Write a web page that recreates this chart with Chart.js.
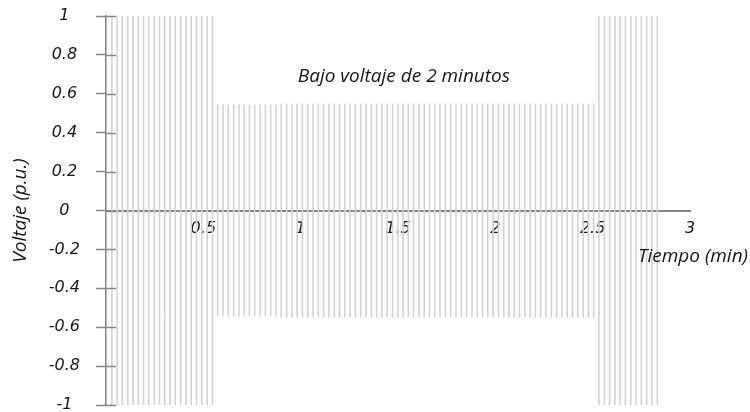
<!DOCTYPE html>
<html>
<head>
<meta charset="utf-8">
<script src="https://cdn.jsdelivr.net/npm/chart.js@4/dist/chart.umd.min.js"></script>
<style>
  html, body { margin: 0; padding: 0; background: #ffffff; }
  #wrap { width: 750px; height: 412px; }
</style>
</head>
<body>
<div id="wrap"><canvas id="grafico" width="750" height="412"></canvas></div>
<script>
// Oscilación de la tensión: cada franja vertical va del pico positivo al negativo
// Tramo 1: tensión nominal
const tiempoTramo1 = [0.030, 0.057, 0.084, 0.112, 0.139, 0.166, 0.193, 0.220, 0.248, 0.275,
                      0.302, 0.329, 0.356, 0.384, 0.411, 0.438, 0.465, 0.492, 0.520, 0.547];
const picoTramo1 = [1, 1, 1, 1, 1, 1, 1, 1, 1, 1,
                    1, 1, 1, 1, 1, 1, 1, 1, 1, 1];

// Tramo 2: bajo voltaje durante 2 minutos
const tiempoTramo2 = [0.574, 0.601, 0.628, 0.656, 0.683, 0.710, 0.737, 0.764, 0.792, 0.819,
                      0.846, 0.873, 0.900, 0.928, 0.955, 0.982, 1.009, 1.036, 1.064, 1.091,
                      1.118, 1.145, 1.172, 1.200, 1.227, 1.254, 1.281, 1.308, 1.336, 1.363,
                      1.390, 1.417, 1.444, 1.472, 1.499, 1.526, 1.553, 1.580, 1.608, 1.635,
                      1.662, 1.689, 1.716, 1.744, 1.771, 1.798, 1.825, 1.852, 1.880, 1.907,
                      1.934, 1.961, 1.988, 2.016, 2.043, 2.070, 2.097, 2.124, 2.152, 2.179,
                      2.206, 2.233, 2.260, 2.288, 2.315, 2.342, 2.369, 2.396, 2.424, 2.451,
                      2.478, 2.505];
const picoTramo2 = [0.545, 0.545, 0.545, 0.545, 0.545, 0.545, 0.545, 0.545, 0.545, 0.545,
                    0.545, 0.545, 0.55, 0.55, 0.55, 0.55, 0.55, 0.55, 0.55, 0.55,
                    0.55, 0.55, 0.55, 0.55, 0.55, 0.55, 0.55, 0.55, 0.55, 0.55,
                    0.55, 0.55, 0.55, 0.55, 0.55, 0.55, 0.55, 0.55, 0.55, 0.55,
                    0.55, 0.55, 0.55, 0.55, 0.55, 0.55, 0.55, 0.55, 0.55, 0.55,
                    0.55, 0.55, 0.55, 0.55, 0.55, 0.55, 0.55, 0.55, 0.55, 0.55,
                    0.55, 0.55, 0.55, 0.55, 0.55, 0.55, 0.55, 0.55, 0.55, 0.55,
                    0.55, 0.55];

// Tramo 3: recuperación de la tensión nominal
const tiempoTramo3 = [2.532, 2.560, 2.587, 2.614, 2.641, 2.668, 2.696, 2.723, 2.750, 2.777,
                      2.804, 2.832];
const picoTramo3 = [1, 1, 1, 1, 1, 1, 1, 1, 1, 1, 1, 1];

// Marcas de los ejes
const marcasTiempo = [0.5, 1, 1.5, 2, 2.5, 3];
const marcasVoltaje = [-1, -0.8, -0.6, -0.4, -0.2, 0, 0.2, 0.4, 0.6, 0.8, 1];

const tituloY = 'Voltaje (p.u.)';
const tituloX = 'Tiempo (min)';
const nota = 'Bajo voltaje de 2 minutos';

const tiempos = tiempoTramo1.concat(tiempoTramo2, tiempoTramo3);
const picos = picoTramo1.concat(picoTramo2, picoTramo3);

// Cada franja: de +pico a -pico en el mismo instante, separada de la siguiente
const puntos = [];
tiempos.forEach((t, i) => {
  puntos.push({ x: t, y: picos[i] });
  puntos.push({ x: t, y: -picos[i] });
  puntos.push({ x: t, y: null });
});

const colorTexto = '#161616';
const colorEje = '#858585';
const fuenteMarcas = { family: '"DejaVu Sans", Verdana, sans-serif', size: 16, style: 'italic' };
const fuenteTitulos = 'italic 19px "Open Sans", Lato, sans-serif';

// Marcas del eje Y que cruzan la línea del eje, y textos libres
const extras = {
  id: 'extras',
  afterDraw(chart) {
    const { ctx, scales } = chart;
    const y = scales.y;
    const x0 = y.right;
    ctx.save();
    ctx.strokeStyle = colorEje;
    ctx.lineWidth = 1.5;
    y.ticks.forEach((tk, i) => {
      const py = Math.round(y.getPixelForTick(i)) + 0.5;
      ctx.beginPath();
      ctx.moveTo(x0, py);
      ctx.lineTo(x0 + 10, py);
      ctx.stroke();
    });
    ctx.fillStyle = colorTexto;
    ctx.font = fuenteTitulos;
    ctx.textBaseline = 'alphabetic';
    ctx.textAlign = 'center';
    ctx.fillText(nota, scales.x.getPixelForValue(1.53), y.getPixelForValue(0.66));
    ctx.textAlign = 'right';
    ctx.fillText(tituloX, chart.width - 2, y.getPixelForValue(-0.265));
    ctx.restore();
  }
};

new Chart(document.getElementById('grafico'), {
  type: 'line',
  data: {
    datasets: [{
      data: puntos,
      borderColor: '#d3d3d3',
      borderWidth: 1.6,
      pointRadius: 0,
      tension: 0,
      spanGaps: false,
      fill: false
    }]
  },
  options: {
    responsive: false,
    animation: false,
    events: [],
    layout: { padding: { top: 16, bottom: 7, right: 60, left: 0 } },
    plugins: { legend: { display: false }, tooltip: { enabled: false } },
    scales: {
      x: {
        type: 'linear',
        position: { y: 0 },
        min: 0,
        max: 3,
        z: 1,
        grid: { display: false },
        border: { display: true, color: colorEje, width: 2 },
        afterBuildTicks(scale) {
          scale.ticks = marcasTiempo.map(v => ({ value: v }));
        },
        afterFit(scale) {
          scale.paddingLeft = 0;
          scale.paddingRight = 0;
        },
        ticks: {
          color: colorTexto,
          font: fuenteMarcas,
          padding: 1,
          maxRotation: 0,
          autoSkip: false,
          callback: v => String(v)
        }
      },
      y: {
        type: 'linear',
        min: -1,
        max: 1,
        afterFit(scale) {
          scale.width = 106;
          scale.paddingTop = 0;
          scale.paddingBottom = 0;
        },
        afterBuildTicks(scale) {
          scale.ticks = marcasVoltaje.map(v => ({ value: v }));
        },
        grid: {
          display: true,
          drawOnChartArea: false,
          drawTicks: true,
          tickLength: 10,
          tickWidth: 1.5,
          color: colorEje
        },
        border: { display: true, color: colorEje, width: 1.5 },
        ticks: {
          color: colorTexto,
          font: fuenteMarcas,
          padding: 16,
          crossAlign: 'center',
          autoSkip: false,
          callback: v => String(v)
        },
        title: {
          display: true,
          text: tituloY,
          color: colorTexto,
          font: { family: '"Open Sans", Lato, sans-serif', size: 19, style: 'italic' },
          padding: { top: 9, bottom: 0 }
        }
      }
    }
  },
  plugins: [extras]
});
</script>
</body>
</html>
